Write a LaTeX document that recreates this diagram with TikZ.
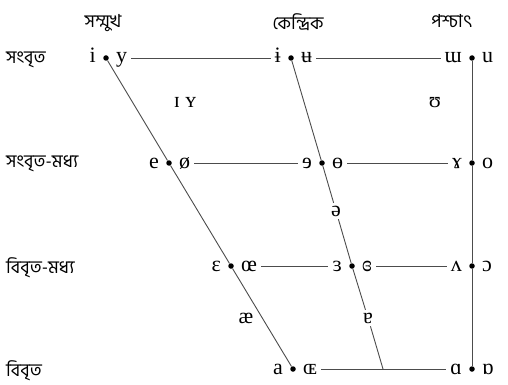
\documentclass[tikz,border=0pt]{standalone}
\usepackage{fontspec}
\setmainfont{Liberation Serif}
\newfontfamily\bnfont[Script=Bengali]{Hind Siliguri}
\usetikzlibrary{positioning}

\begin{document}
\begin{tikzpicture}[
      x=1pt, y=-1pt,
      vow/.style={font=\fontsize{22}{22}\selectfont, inner sep=1pt,
                  text height=10pt, text depth=0pt},
      mid/.style={vow, fill=white, inner sep=3pt},
      dot/.style={circle, fill, inner sep=0pt, minimum size=5.5pt},
      bn/.style={font=\bnfont\fontsize{18}{20}\selectfont, inner sep=0pt},
      edge/.style={line width=0.9pt, black!70},
      hline/.style={edge, shorten <=3pt, shorten >=3pt},
      node distance=6pt
    ]
    \useasboundingbox (0,0) rectangle (508,385);

    % Spaltenkoepfe
    \node[bn] (front) at (103,23) {সম্মুখ};
    \node[bn] (central) at (298,22) {কেন্দ্রিক};
    \node[bn] (back) at (452,21) {পশ্চাৎ};
    % Zeilenbeschriftungen
    \node[bn, anchor=west] (close) at (6,60) {সংবৃত};
    \node[bn, anchor=west] (closemid) at (6,164) {সংবৃত-মধ্য};
    \node[bn, anchor=west] (openmid) at (6,268) {বিবৃত-মধ্য};
    \node[bn, anchor=west] (open) at (6,371) {বিবৃত};

    % Punkte
    \node[dot] (fc) at (106,58) {};
    \node[dot] (fcm) at (169,163) {};
    \node[dot] (fom) at (231,266) {};
    \node[dot] (fo) at (293,369) {};
    \node[dot] (cc) at (291,58) {};
    \node[dot] (ccm) at (322,163) {};
    \node[dot] (com) at (352,266) {};
    \coordinate (copen) at (383,369);
    \node[dot] (bc) at (472,58) {};
    \node[dot] (bcm) at (472,163) {};
    \node[dot] (bom) at (472,266) {};
    \node[dot] (bo) at (472,369) {};

    % Vokale
    \node[vow, left=of fc] (i) {i};
    \node[vow, right=of fc] (y) {y};
    \node[vow, left=of cc] (ibar) {ɨ};
    \node[vow, right=of cc] (ubar) {ʉ};
    \node[vow, left=of bc] (mturn) {ɯ};
    \node[vow, right=of bc] (u) {u};
    \node[vow, left=of fcm] (e) {e};
    \node[vow, right=of fcm] (oslash) {ø};
    \node[vow, left=of ccm] (erev) {ɘ};
    \node[vow, right=of ccm] (obar) {ɵ};
    \node[vow, left=of bcm] (ram) {ɤ};
    \node[vow, right=of bcm] (o) {o};
    \node[vow, left=of fom] (eps) {ɛ};
    \node[vow, right=of fom] (oe) {œ};
    \node[vow, left=of com] (epsrev) {ɜ};
    \node[vow, right=of com] (epsclosed) {ɞ};
    \node[vow, left=of bom] (vturn) {ʌ};
    \node[vow, right=of bom] (oopen) {ɔ};
    \node[vow, left=of fo] (a) {a};
    \node[vow, right=of fo] (OE) {ɶ};
    \node[vow, left=of bo] (alpha) {ɑ};
    \node[vow, right=of bo] (alphaturn) {ɒ};

    % Zwischenvokale
    \node[vow] (nearclose) at (185,103) {ɪ ʏ};
    \node[vow] (nearback) at (435,102) {ʊ};
    \node[mid] (schwa) at (336,211) {ə};
    \node[mid] (aturn) at (368,318) {ɐ};
    \node[vow] (ash) at (246,318) {æ};

    % Trapez
    \draw[edge] (fc) -- (fcm) -- (fom) -- (fo);
    \draw[edge] (cc) -- (ccm) -- (schwa) -- (com) -- (aturn) -- (copen);
    \draw[edge] (bc) -- (bcm) -- (bom) -- (bo);
    % Waagerechte
    \draw[hline] (y) -- (ibar);
    \draw[hline] (ubar) -- (mturn);
    \draw[hline] (oslash) -- (erev);
    \draw[hline] (obar) -- (ram);
    \draw[hline] (oe) -- (epsrev);
    \draw[hline] (epsclosed) -- (vturn);
    \draw[hline] (OE) -- (alpha);
  \end{tikzpicture}
\end{document}
